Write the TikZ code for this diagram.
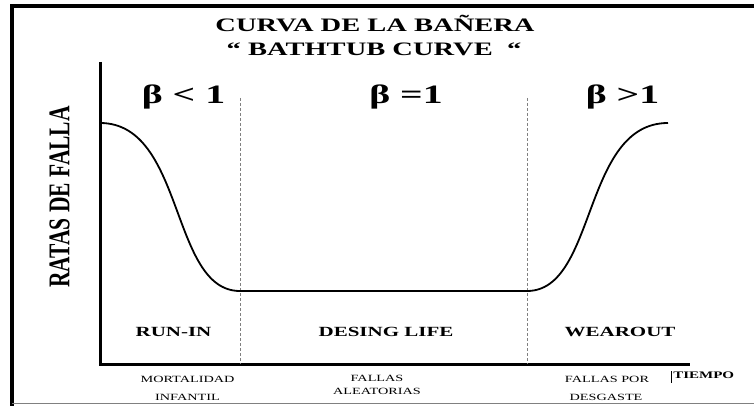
\documentclass[tikz,border=0pt]{standalone}
\usepackage{fontspec}
\setmainfont{Liberation Serif}
\usetikzlibrary{positioning}
\tikzset{
  title/.style={font=\bfseries\fontsize{19}{21}\selectfont, xscale=1.5, anchor=base},
  beta/.style={font=\bfseries\fontsize{26.5}{28}\selectfont, xscale=1.5, anchor=base},
  phase/.style={font=\bfseries\fontsize{14}{16}\selectfont, xscale=1.5, anchor=base},
  small/.style={font=\fontsize{9.5}{11}\selectfont, xscale=1.5, anchor=base},
  divider/.style={densely dashed, gray, line width=0.5pt},
}
\begin{document}
\begin{tikzpicture}[x=1pt, y=-1pt]
        \useasboundingbox (0,0) rectangle (754,406);
        % Frame
        \draw[line width=4pt] (754,6) -- (12,6) -- (12,406);
        \draw[gray, line width=1pt] (12,403.5) -- (754,403.5);

        % Axes
        \coordinate (top) at (100,62);
        \coordinate (origin) at (100,364);
        \coordinate (end) at (690,364);
        \draw[line width=3pt] (top) -- (origin) -- (end);

        % Dividers
        \coordinate (d1) at (240,98);
        \coordinate (d2) at (527,98);
        \draw[divider] (d1) -- (d1 |- origin);
        \draw[divider] (d2) -- (d2 |- origin);

        % Curve
        \coordinate (a) at (100,123);
        \coordinate (b) at (240,291);
        \coordinate (c) at (527,291);
        \coordinate (d) at (668,123);
        \draw[line width=1.8pt] (a) .. controls (185,123) and (170,291) .. (b);
        \draw[line width=2.6pt] (b) -- (c);
        \draw[line width=1.8pt] (c) .. controls (597,291) and (582,123) .. (d);

        % Title
        \node (t1) [title] at (375,32) {CURVA DE LA BAÑERA};
        \node (t2) [title] at (374,56) {“ BATHTUB CURVE ~“};

        % Beta labels
        \node (b1) [beta] at (183.5,104) {β < 1};
        \node (b2) [beta] at (406,104) {β =1};
        \node (b3) [beta] at (622.5,104) {β >1};

        % Phases
        \node (p1) [phase] at (173.5,336) {RUN-IN};
        \node (p2) [phase] at (386,336) {DESING LIFE};
        \node (p3) [phase] at (620,336) {WEAROUT};

        % Bottom labels
        \node (m1) [small] at (187.5,382) {MORTALIDAD};
        \node (m2) [small] at (187.5,400) {INFANTIL};
        \node (f1) [small] at (377,381) {FALLAS};
        \node (f2) [small] at (377,394) {ALEATORIAS};
        \node (g1) [small] at (607,382) {FALLAS POR};
        \node (g2) [small] at (606,400) {DESGASTE};
        \node (tiempo) [small, font=\bfseries\fontsize{10}{12}\selectfont, anchor=base west, inner xsep=0pt] at (673,378) {TIEMPO};
        \draw[line width=0.6pt] (tiempo.base west) ++(-2,-7) -- ++(0,12);

        % Y label
        \node (ylabel) [rotate=90, font=\bfseries\fontsize{21.5}{23}\selectfont, yscale=1.4] at (59.5,197) {RATAS DE FALLA};
    \end{tikzpicture}
\end{document}
